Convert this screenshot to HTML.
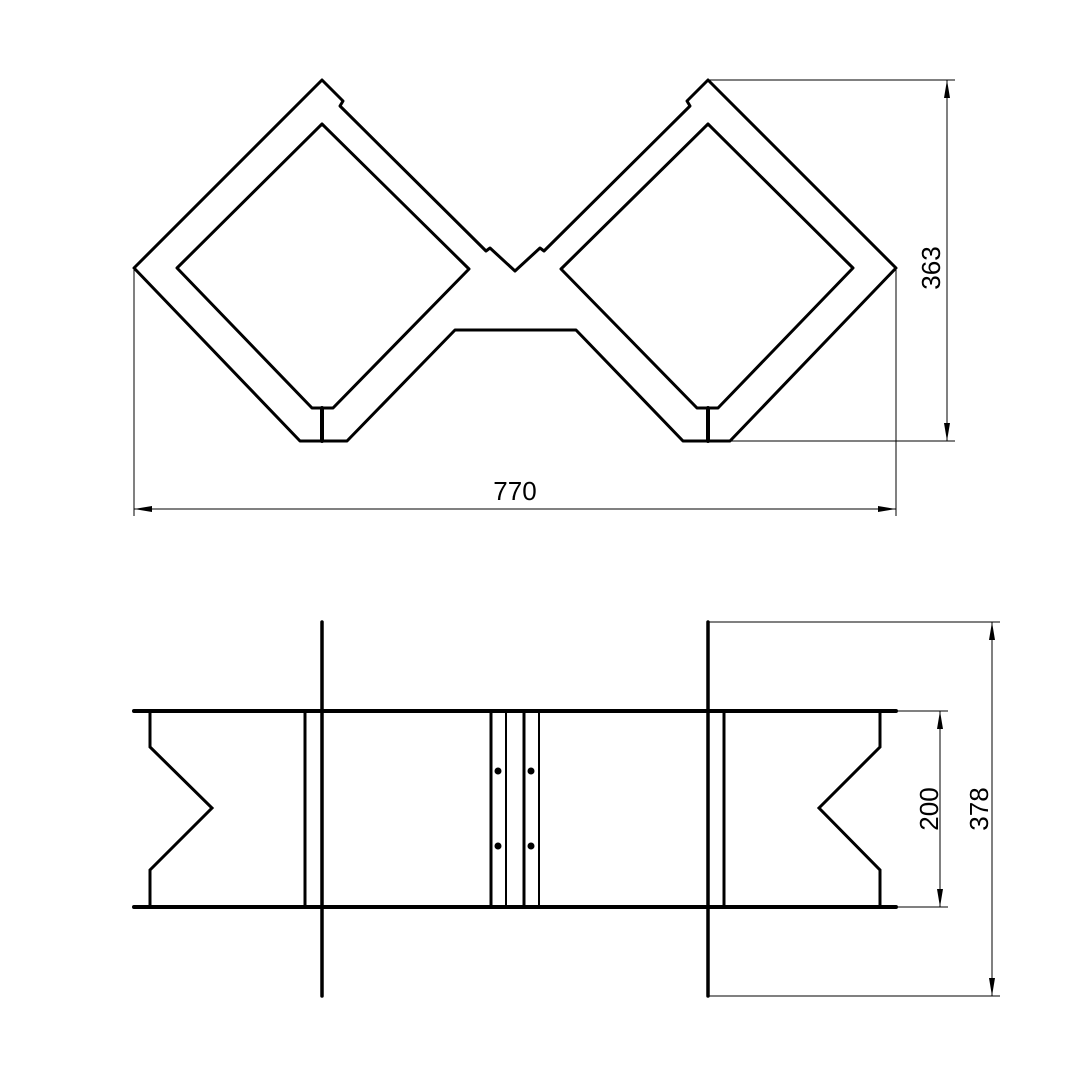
<!DOCTYPE html>
<html><head><style>html,body{margin:0;padding:0;background:#fff}</style></head><body>
<svg width="1080" height="1080" viewBox="0 0 1080 1080" xmlns="http://www.w3.org/2000/svg">
<defs>
<marker id="a" viewBox="0 0 18 6" refX="18" refY="3" markerWidth="18" markerHeight="6" markerUnits="userSpaceOnUse" orient="auto-start-reverse"><path d="M0,0 L18,3 L0,6z" fill="#000"/></marker>
</defs>
<g fill="none" stroke="#000" stroke-width="3" stroke-linejoin="round" stroke-linecap="round">
<!-- outer contour -->
<path d="M322,80 L343,101 L340,106 L486,251 L490,248 L515,271 L540,248 L544,251 L690,106 L687,101 L708,80 L896,268 L730,441 L683,441 L576,330 L455,330 L347,441 L300,441 L134,268 Z"/>
<!-- inner diamonds -->
<path d="M322,124 L469,269 L333,408 L312,408 L177,268 Z"/>
<path d="M708,124 L853,268 L718,408 L697,408 L561,269 Z"/>
<line x1="322" y1="408" x2="322" y2="441" stroke-width="4"/>
<line x1="708" y1="408" x2="708" y2="441" stroke-width="4"/>
</g>
<g stroke="#000" stroke-width="1" fill="none">
<line x1="708" y1="80" x2="955" y2="80"/>
<line x1="730" y1="441" x2="955" y2="441"/>
<line x1="947" y1="80" x2="947" y2="441" marker-start="url(#a)" marker-end="url(#a)"/>
<line x1="134" y1="270" x2="134" y2="516"/>
<line x1="896" y1="270" x2="896" y2="516"/>
<line x1="134" y1="509" x2="896" y2="509" marker-start="url(#a)" marker-end="url(#a)"/>
<line x1="708" y1="622" x2="1000" y2="622"/>
<line x1="708" y1="996" x2="1000" y2="996"/>
<line x1="992" y1="622" x2="992" y2="996" marker-start="url(#a)" marker-end="url(#a)"/>
<line x1="898" y1="711" x2="948" y2="711"/>
<line x1="898" y1="907" x2="948" y2="907"/>
<line x1="940" y1="711" x2="940" y2="907" marker-start="url(#a)" marker-end="url(#a)"/>
</g>
<g font-family="Liberation Sans, sans-serif" font-size="26" fill="#000" text-anchor="middle">
<text x="515" y="500">770</text>
<text transform="translate(940,268) rotate(-90)">363</text>
<text transform="translate(938,809) rotate(-90)">200</text>
<text transform="translate(988,809) rotate(-90)">378</text>
</g>
<g fill="none" stroke="#000" stroke-linecap="round">
<line x1="134" y1="711" x2="896" y2="711" stroke-width="4"/>
<line x1="134" y1="907" x2="896" y2="907" stroke-width="4"/>
<polyline points="150,711 150,747 212,808 150,870 150,907" stroke-width="3"/>
<polyline points="880,711 880,747 819,808 880,870 880,907" stroke-width="3"/>
<line x1="305" y1="711" x2="305" y2="907" stroke-width="3"/>
<line x1="322" y1="622" x2="322" y2="996" stroke-width="3.5"/>
<line x1="708" y1="622" x2="708" y2="996" stroke-width="3.5"/>
<line x1="724" y1="711" x2="724" y2="907" stroke-width="3"/>
<line x1="491" y1="711" x2="491" y2="907" stroke-width="3"/>
<line x1="506" y1="711" x2="506" y2="907" stroke-width="2"/>
<line x1="524" y1="711" x2="524" y2="907" stroke-width="3"/>
<line x1="539" y1="711" x2="539" y2="907" stroke-width="2"/>
</g>
<g fill="#000">
<circle cx="498" cy="771" r="3.5"/><circle cx="531" cy="771" r="3.5"/>
<circle cx="498" cy="846" r="3.5"/><circle cx="531" cy="846" r="3.5"/>
</g>
</svg>
</body></html>
